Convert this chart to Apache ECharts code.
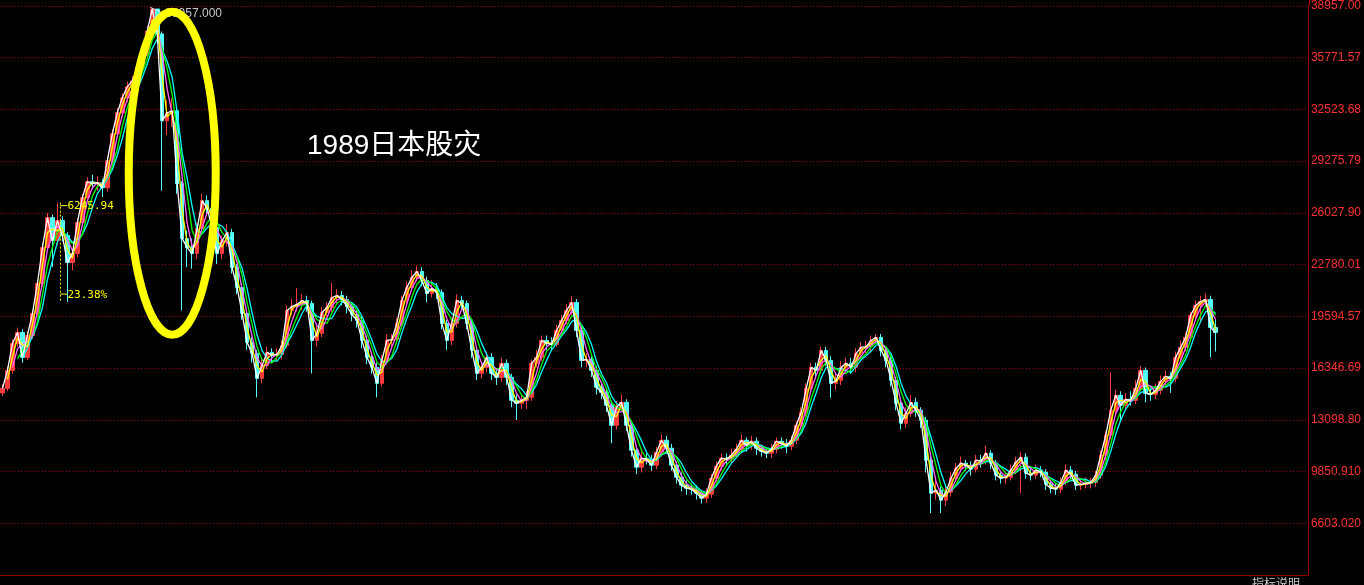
<!DOCTYPE html>
<html><head><meta charset="utf-8">
<script src="https://cdn.jsdelivr.net/npm/echarts/dist/echarts.min.js"></script>
<style>html,body{margin:0;padding:0;background:#000;overflow:hidden}#c{width:1364px;height:585px;}</style>
</head><body><div id="c"></div>
<script>
// ---- data (index price, one candle per ~5px column) ----
const closes = [15086,16215,17908,18598,17030,18410,19789,21670,23927,25808,
24366,25620,24679,22987,23551,25495,27062,28065,27940,28003,
27689,29382,31075,32392,33332,34022,34398,35213,36091,37533,
38912,37345,31890,32392,32517,27940,24491,23927,23551,25118,
26874,26372,25181,23551,24366,24868,22673,21419,19789,17971,
17281,15713,16528,17344,17155,17218,17782,19977,20228,20353,
20604,20416,18096,18535,19852,20165,20792,20917,20667,20228,
19726,19350,18096,17030,16403,15400,16842,18096,18150,19162,
20604,21419,22046,22422,21858,21043,21356,21105,19162,18096,
19162,20604,20416,19162,17469,16027,16403,17030,16027,15776,
16654,15776,14334,14146,14334,14522,16654,17030,18096,17908,
17850,18723,19350,19977,20479,18723,16842,16900,16215,15149,
14836,14020,12766,13895,14209,12766,11199,10133,10697,10634,
10259,11074,11826,11324,10259,9506,9004,8816,8754,8503,
8189,8440,9443,10196,10697,10634,10886,11262,11826,11512,
11763,11324,11136,11011,11262,11763,11638,11450,11826,12766,
13582,15086,16403,16215,17469,16842,15400,15588,16403,16654,
16403,17281,17657,17700,18096,18284,17469,16842,15588,14146,
12892,13519,14209,13707,13080,10572,8503,8691,8064,8566,
9443,10070,10384,10259,10008,10572,10509,11011,10384,9632,
9443,9506,9945,10447,10761,9757,9632,9945,9820,9067,
8816,8754,9193,9945,9694,9004,9050,9130,9180,9632,
10886,12139,13707,14648,14020,14397,14334,15086,16215,14772,
14710,14961,15525,15839,15713,17030,17657,18284,19664,20290,
20541,20667,18911,18598];
const opens = [14800,15086,16215,17908,18598,17030,18410,19789,21670,23927,
25808,24366,25620,24679,22987,23551,25495,27062,28065,27940,
28003,27689,29382,31075,32392,33332,34022,34398,35213,36091,
37533,38912,37345,31890,32392,32517,27940,24491,23927,23551,
25118,26874,26372,25181,23551,24366,24868,22673,21419,19789,
17971,17281,15713,16528,17344,17155,17218,17782,19977,20228,
20353,20604,20416,18096,18535,19852,20165,20792,20917,20667,
20228,19726,19350,18096,17030,16403,15400,16842,18096,18150,
19162,20604,21419,22046,22422,21858,21043,21356,21105,19162,
18096,19162,20604,20416,19162,17469,16027,16403,17030,16027,
15776,16654,15776,14334,14146,14334,14522,16654,17030,18096,
17908,17850,18723,19350,19977,20479,18723,16842,16900,16215,
15149,14836,14020,12766,13895,14209,12766,11199,10133,10697,
10634,10259,11074,11826,11324,10259,9506,9004,8816,8754,
8503,8189,8440,9443,10196,10697,10634,10886,11262,11826,
11512,11763,11324,11136,11011,11262,11763,11638,11450,11826,
12766,13582,15086,16403,16215,17469,16842,15400,15588,16403,
16654,16403,17281,17657,17700,18096,18284,17469,16842,15588,
14146,12892,13519,14209,13707,13080,10572,8503,8691,8064,
8566,9443,10070,10384,10259,10008,10572,10509,11011,10384,
9632,9443,9506,9945,10447,10761,9757,9632,9945,9820,
9067,8816,8754,9193,9945,9694,9004,9050,9130,9180,
9632,10886,12139,13707,14648,14020,14397,14334,15086,16215,
14772,14710,14961,15525,15839,15713,17030,17657,18284,19664,
20290,20541,20667,18911];
const highs = [15350,16450,18150,18900,18800,18650,20000,21900,24200,26100,
26000,26750,25900,24900,23800,25750,27300,28350,28500,28400,
28250,29650,31350,32700,33600,34350,34700,35500,36400,37850,
38957,38700,37500,33200,33300,32700,28100,25000,24500,25500,
27300,27200,26600,25400,24700,25400,25100,22900,21700,20000,
18300,17500,17000,17700,17600,17600,18100,20300,20700,21400,
21000,20900,20600,19000,20200,20500,21700,21300,21200,20900,
20500,20000,19600,18400,17300,16700,17200,18500,18500,19500,
20900,21800,22500,22800,22700,22100,21900,21700,21300,19400,
19500,21000,20900,20600,19400,17700,16800,17400,17300,16300,
17000,16900,16000,14700,14700,14900,16900,17500,18400,18400,
18300,19100,19700,20400,20900,20700,19000,17300,17100,16500,
15400,15100,14300,14300,14700,14400,13000,11400,11100,11000,
10900,11400,12200,12100,11600,10500,9800,9300,9100,9000,
8700,8800,9700,10500,11000,11000,11300,11600,12200,12000,
12100,12000,11500,11400,11600,12000,12000,11900,12100,13000,
13900,15400,16700,16700,17700,17700,17100,16000,16800,17000,
17000,17600,18000,18050,18400,18500,18500,17700,17100,15800,
14400,13900,14650,14500,13900,13300,10800,9500,8900,8900,
9800,10400,10800,10600,10500,10900,10900,11500,11200,10600,
9900,9800,10300,10800,11100,11000,10000,10300,10200,10000,
9300,9100,9500,10300,10200,9900,9300,9500,9450,9900,
11200,12400,16100,15000,14900,14800,14900,15600,16500,16400,
15100,15400,15900,16200,16100,17400,18100,18600,19900,20600,
20900,21050,20900,19400];
const lows = [14600,14900,16000,17700,16700,16850,18200,19600,21450,23700,
22700,24100,24300,20504,22500,23300,25300,26850,27600,27500,
27100,27450,29150,30850,32100,33050,33500,34150,35000,35900,
37300,36800,27500,31000,31500,27300,19980,22700,22600,23200,
24900,25900,24800,22900,23200,24000,22300,21000,19400,17500,
16700,14520,15400,16300,16700,16800,16900,17600,19700,19900,
20000,19900,16030,17700,18300,19500,19900,20400,20300,19800,
19300,18900,17600,16600,16000,14520,15200,16600,17700,17900,
18900,20300,21200,21800,21500,20500,20800,20700,18800,17500,
17800,18900,20000,18800,17000,15600,15700,16100,15600,15300,
15500,15300,13900,13100,13800,13800,14300,16400,16800,17500,
17500,17700,18500,19100,19700,18300,16400,16400,15800,14700,
14400,13600,11640,12500,13600,12400,10800,9700,9800,10300,
9900,10000,10800,11000,9900,9100,8600,8400,8400,8100,
7850,7900,8200,9200,9900,10200,10400,10700,11000,11100,
11200,10900,10800,10700,10700,11000,11300,11000,11200,11600,
12500,13300,14800,15800,16000,16500,14500,15000,15300,16100,
16000,16100,17000,17300,17400,17900,17100,16400,15200,13700,
12500,12600,13300,13300,12600,9800,7250,8100,7250,7700,
8300,9200,9800,9900,9600,9800,10100,10300,10000,9300,
9100,9100,9300,9700,8500,9400,9300,9400,9500,8700,
8500,8400,8500,9000,9400,8700,8700,8800,8800,8900,
9400,10600,11900,13400,13100,13700,14000,14100,14900,14200,
14300,14400,14700,15300,14800,15500,16800,17400,18000,19400,
19200,20200,17030,17400];
const emptySlots = 18;
const tickLabels = ['', '6603.020', '9850.910', '13098.80', '16346.69', '19594.57',
  '22780.01', '26027.90', '29275.79', '32523.68', '35771.57', '38957.00'];
const maPeriods = [1, 2, 3, 4, 5];
const peakLabel = '38957.000';
const dropLabel = '6245.94';
const dropPctLabel = '23.38%';
const titleText = '1989日本股灾';

// ---- chart ----
const total = closes.length + emptySlots;
const cats = Array.from({length: total}, (_, i) => String(i));
const candles = closes.map((c, i) => [opens[i], c, lows[i], highs[i]]);
function ma(n) {
  return closes.map((c, i) => {
    if (i < n - 1) return '-';
    let s = 0; for (let k = i - n + 1; k <= i; k++) s += closes[k];
    return +(s / n).toFixed(1);
  });
}
const maColors = ['#ffffff', '#ffff00', '#ff66ff', '#00ff00', '#00ffff'];
const maZ = [7, 6, 5, 4, 3];
const maSeries = maPeriods.map((p, j) => ({
  type: 'line', data: ma(p), symbol: 'none', xAxisIndex: 0, yAxisIndex: 0,
  lineStyle: {color: maColors[j], width: 1.3}, silent: true, z: maZ[j]
}));

const chart = echarts.init(document.getElementById('c'));
chart.setOption({
  backgroundColor: '#000000',
  animation: false,
  grid: {left: 0, right: 55, top: 5, bottom: 10},
  xAxis: {type: 'category', data: cats, boundaryGap: true,
    axisLine: {show: true, lineStyle: {color: '#8b0000', width: 1}},
    axisTick: {show: false}, axisLabel: {show: false}, splitLine: {show: false}},
  yAxis: [
    {type: 'value', min: 3361.5, max: 39100.5, show: false, scale: true, splitLine: {show: false}},
    {type: 'value', min: 1, max: 12, interval: 1, position: 'right',
      axisLine: {show: true, lineStyle: {color: '#a00000', width: 1}},
      axisTick: {show: false},
      axisLabel: {color: '#ff3232', fontSize: 12, fontFamily: '"Liberation Sans", Arial, sans-serif', margin: 3,
        formatter: v => (Math.abs(v - Math.round(v)) < 1e-6 ? (tickLabels[Math.round(v) - 1] || '') : '')},
      splitLine: {show: true, lineStyle: {color: '#a00000', width: 1, type: [1, 2]}}}
  ],
  series: [
    {type: 'candlestick', data: candles, barWidth: 4, xAxisIndex: 0, yAxisIndex: 0, z: 2,
      itemStyle: {color: '#ff3c3c', borderColor: '#ff3c3c', color0: '#54fcfc', borderColor0: '#54fcfc', borderWidth: 1}},
    ...maSeries
  ]
});

// ---- annotations placed through the chart's own scales ----
const pt = (i, p) => chart.convertToPixel({seriesIndex: 0}, [i, p]);
const peak = pt(30, 38957);
const ellC = pt(34, 28598);
const brTop = pt(12, 26750);
const brBot = pt(12, 20504);
const bx = brTop[0] - 2;
chart.setOption({
  graphic: [
    {type: 'ellipse', shape: {cx: ellC[0], cy: ellC[1], rx: 43.5, ry: 161.5},
      style: {fill: 'none', stroke: '#ffff00', lineWidth: 8}, z: 100},
    {type: 'polyline', shape: {points: [[peak[0] - 2, peak[1] - 1], [peak[0] + 11, peak[1] + 5]]},
      style: {stroke: '#e0e0e0', lineWidth: 1}, z: 90},
    {type: 'text', x: peak[0] + 13, y: peak[1] + 5,
      style: {text: peakLabel, fill: '#c8c8c8', font: '12px "Liberation Sans", Arial', textVerticalAlign: 'middle'}, z: 90},
    {type: 'line', shape: {x1: bx, y1: brTop[1], x2: bx, y2: brBot[1]},
      style: {stroke: '#ffff00', lineWidth: 1, lineDash: [2, 2]}, z: 90},
    {type: 'line', shape: {x1: bx, y1: brTop[1] + 3, x2: bx + 7, y2: brTop[1] + 3},
      style: {stroke: '#ffff00', lineWidth: 1}, z: 90},
    {type: 'line', shape: {x1: bx, y1: brBot[1] - 8, x2: bx + 7, y2: brBot[1] - 8},
      style: {stroke: '#ffff00', lineWidth: 1}, z: 90},
    {type: 'text', x: bx + 7, y: brTop[1] + 4,
      style: {text: dropLabel, fill: '#ffff00', font: '11px "DejaVu Sans Mono", monospace', textVerticalAlign: 'middle'}, z: 90},
    {type: 'text', x: bx + 7, y: brBot[1] - 7,
      style: {text: dropPctLabel, fill: '#ffff00', font: '11px "DejaVu Sans Mono", monospace', textVerticalAlign: 'middle'}, z: 90},
    {type: 'text', x: 307, y: 146,
      style: {text: titleText, fill: '#ffffff', font: '28px "Liberation Sans", "Noto Sans CJK SC", sans-serif', textVerticalAlign: 'middle'}, z: 90},
    {type: 'line', shape: {x1: 1309.5, y1: 0, x2: 1309.5, y2: 6}, style: {stroke: '#a00000', lineWidth: 1}, z: 90},
    {type: 'text', x: 1252, y: 577,
      style: {text: '指标说明', fill: '#c8c8c8', font: '12px "Noto Sans CJK SC", sans-serif'}, z: 90}
  ]
});
</script>
</body></html>
